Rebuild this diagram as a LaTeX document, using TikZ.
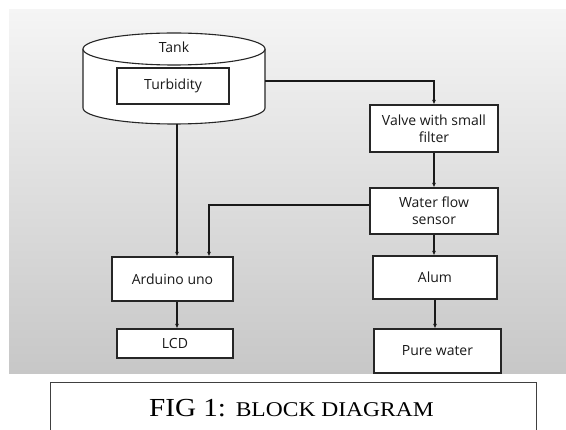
\documentclass[tikz,border=0pt]{standalone}
\usepackage{fontspec}
\setmainfont{Liberation Serif}
\newfontfamily\blockfont{Open Sans}
\usetikzlibrary{arrows.meta}

\tikzset{
  block/.style={draw=black!85, fill=white, line width=1.1pt, text=black!90,
    font=\blockfont\fontsize{14}{17}\selectfont, align=center, inner sep=2pt},
  flow/.style={-{Latex[length=4.5pt,width=4pt]}, line width=1.1pt, draw=black!90},
}

\begin{document}
\begin{tikzpicture}[x=1pt,y=-1pt]
  \useasboundingbox (0,0) rectangle (566,430);
  % grey panel behind the blocks
  \shade[top color=black!4, middle color=black!11, bottom color=black!22] (9,10) rectangle (566,374);

  % tank with the sensor inside
  \draw[line width=1.1pt, draw=black!85, fill=white] (83,49) -- (83,108)
    arc[start angle=180, end angle=0, x radius=91, y radius=16] -- (265,49);
  \draw[line width=1.1pt, draw=black!85, fill=white] (174,49) ellipse[x radius=91, y radius=16];
  \node[text=black!90, font=\blockfont\fontsize{14}{17}\selectfont] (tank) at (174,47) {Tank};
  \node[block, minimum width=112pt, minimum height=36pt] (turbidity) at (173,86) {Turbidity};
  \coordinate (tankout) at (177,124);
  \coordinate (tankside) at (265,81);

  % blocks
  \node[block, minimum width=128pt, minimum height=47pt] (valve) at (434,128.5) {Valve with small\\filter};
  \node[block, minimum width=128pt, minimum height=46pt] (sensor) at (434,211) {Water flow\\sensor};
  \node[block, minimum width=124pt, minimum height=43pt] (alum) at (435,277.5) {Alum};
  \node[block, minimum width=127pt, minimum height=44pt] (pure) at (437.5,351) {Pure water};
  \node[block, minimum width=121pt, minimum height=44pt] (arduino) at (172.5,279) {Arduino uno};
  \node[block, minimum width=116pt, minimum height=29pt] (lcd) at (175,343.5) {LCD};

  % connections
  \draw[flow] (tankout) -- (tankout |- arduino.north);
  \draw[flow] (tankside) -| (valve.north);
  \draw[flow] (valve.south) -- (sensor.north);
  \draw[flow] ([yshift=6pt]sensor.west) -| ([xshift=36.5pt]arduino.north);
  \draw[flow] (sensor.south) -- (sensor.south |- alum.north);
  \draw[flow] (alum.south) -- (alum.south |- pure.north);
  \draw[flow] (arduino.south -| tankout) -- (lcd.north -| tankout);

  % caption
  \draw[line width=1pt, draw=black!75] (50,450) -- (50,383) -- (536,383) -- (536,450);
  \node[anchor=base, inner sep=0pt] (caption) at (291.5,417)
    {\scalebox{1.12}[1]{\fontsize{26}{26}\selectfont FIG 1: {\fontsize{21}{21}\selectfont BLOCK DIAGRAM}}};
\end{tikzpicture}
\end{document}
